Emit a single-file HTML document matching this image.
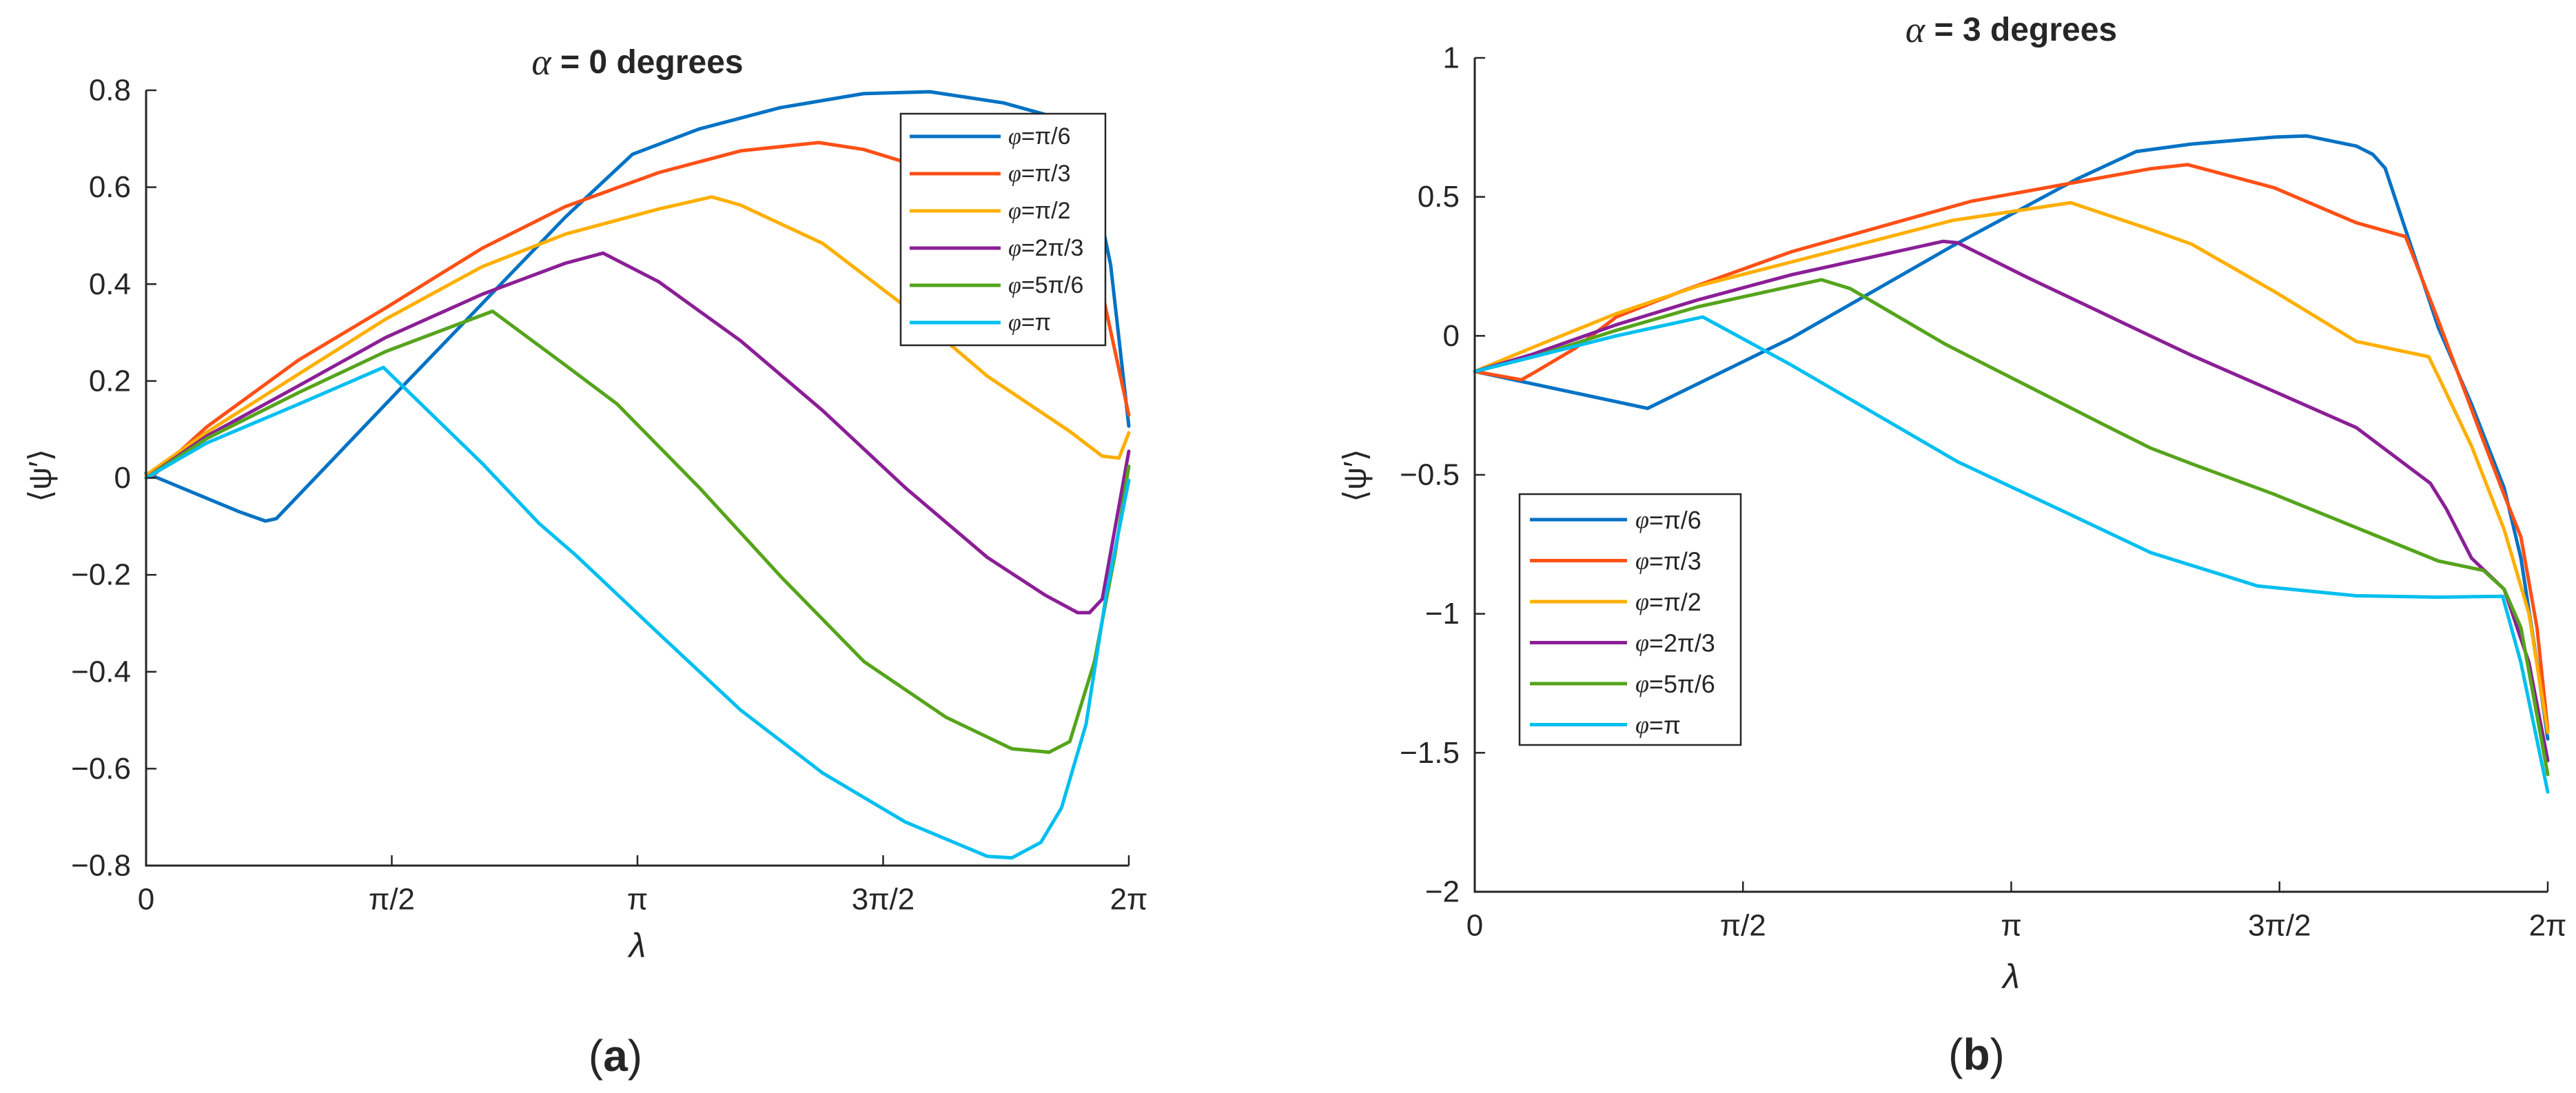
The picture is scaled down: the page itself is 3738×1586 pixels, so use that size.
<!DOCTYPE html>
<html><head><meta charset="utf-8">
<style>
html,body{margin:0;padding:0;background:#fff;}
svg{display:block;}
text{font-family:"Liberation Sans",sans-serif;fill:#262626;}
</style></head>
<body>
<svg id="fig" width="3738" height="1586" viewBox="0 0 3738 1586" xmlns="http://www.w3.org/2000/svg">
<g id="panelA"></g>
<g id="panelB"></g>
</svg>
<script>
// ---- data (x in units of pi) ----
const seriesNames = ["\u03c6=\u03c0/6","\u03c6=\u03c0/3","\u03c6=\u03c0/2","\u03c6=2\u03c0/3","\u03c6=5\u03c0/6","\u03c6=\u03c0"];
const seriesColors = ["#0072C4","#FF5016","#FFAF00","#8B1F96","#55A41C","#00BFF0"];
const xTickValues = [0,0.5,1,1.5,2];
const xTickLabels = ["0","\u03c0/2","\u03c0","3\u03c0/2","2\u03c0"];
const yTicksA = [-0.8,-0.6,-0.4,-0.2,0,0.2,0.4,0.6,0.8];
const yTickLabelsA = ["\u22120.8","\u22120.6","\u22120.4","\u22120.2","0","0.2","0.4","0.6","0.8"];
const yTicksB = [-2,-1.5,-1,-0.5,0,0.5,1];
const yTickLabelsB = ["\u22122","\u22121.5","\u22121","\u22120.5","0","0.5","1"];

const a_pi6_x = [0,0.19,0.243,0.265,0.523,0.853,0.99,1.125,1.29,1.46,1.595,1.745,1.83,1.91,1.963,2];
const a_pi6_y = [0.01,-0.07,-0.089,-0.084,0.19,0.538,0.668,0.72,0.764,0.793,0.797,0.774,0.75,0.70,0.44,0.107];
const a_pi3_x = [0,0.02,0.123,0.31,0.488,0.684,0.853,1.043,1.21,1.369,1.46,1.55,1.712,1.88,1.946,2];
const a_pi3_y = [0,0.01,0.105,0.243,0.351,0.474,0.56,0.63,0.675,0.692,0.678,0.65,0.6,0.51,0.383,0.13];
const a_pi2_x = [0,0.123,0.31,0.488,0.684,0.853,1.043,1.151,1.21,1.377,1.545,1.712,1.88,1.946,1.98,2];
const a_pi2_y = [0.006,0.094,0.214,0.328,0.436,0.503,0.555,0.58,0.563,0.484,0.354,0.21,0.096,0.045,0.041,0.093];
const a_2pi3_x = [0,0.123,0.31,0.488,0.684,0.853,0.93,1.043,1.21,1.377,1.545,1.712,1.83,1.896,1.92,1.946,2];
const a_2pi3_y = [0,0.086,0.19,0.29,0.379,0.443,0.464,0.405,0.283,0.139,-0.02,-0.164,-0.242,-0.278,-0.278,-0.25,0.055];
const a_5pi6_x = [0,0.123,0.31,0.488,0.705,0.853,0.958,1.126,1.294,1.461,1.628,1.762,1.838,1.88,1.93,1.971,2];
const a_5pi6_y = [0,0.081,0.176,0.261,0.344,0.233,0.153,-0.02,-0.206,-0.379,-0.494,-0.559,-0.566,-0.544,-0.379,-0.163,0.024];
const a_pi_x = [0,0.123,0.31,0.483,0.684,0.8,0.875,1.043,1.21,1.377,1.545,1.712,1.762,1.821,1.863,1.913,1.955,2];
const a_pi_y = [0,0.072,0.152,0.228,0.03,-0.094,-0.16,-0.321,-0.479,-0.609,-0.71,-0.781,-0.784,-0.752,-0.681,-0.508,-0.235,-0.005];

const b_pi6_x = [0,0.322,0.591,0.89,1.122,1.233,1.336,1.49,1.551,1.643,1.674,1.697,1.735,1.796,1.858,1.919,1.95,1.98,2];
const b_pi6_y = [-0.128,-0.261,-0.007,0.323,0.564,0.663,0.69,0.715,0.719,0.683,0.653,0.603,0.382,0.03,-0.246,-0.548,-0.8,-1.176,-1.45];
const b_pi3_x = [0,0.087,0.11,0.187,0.264,0.386,0.591,0.925,1.259,1.329,1.49,1.643,1.735,1.796,1.874,1.919,1.95,1.98,2];
const b_pi3_y = [-0.128,-0.158,-0.133,-0.045,0.068,0.161,0.303,0.484,0.601,0.616,0.533,0.407,0.357,0.055,-0.347,-0.573,-0.724,-1.05,-1.415];
const b_pi2_x = [0,0.11,0.264,0.417,0.591,0.89,1.111,1.259,1.336,1.49,1.643,1.778,1.796,1.858,1.919,1.965,2];
const b_pi2_y = [-0.128,-0.04,0.08,0.18,0.266,0.415,0.479,0.383,0.33,0.16,-0.02,-0.075,-0.146,-0.397,-0.698,-1.0,-1.427];
const b_2pi3_x = [0,0.11,0.264,0.417,0.591,0.873,0.9,1.03,1.183,1.259,1.336,1.49,1.643,1.781,1.811,1.858,1.919,1.965,2];
const b_2pi3_y = [-0.128,-0.065,0.04,0.13,0.22,0.34,0.335,0.21,0.07,0.0,-0.07,-0.2,-0.33,-0.53,-0.623,-0.8,-0.912,-1.176,-1.528];
const b_5pi6_x = [0,0.11,0.264,0.417,0.57,0.646,0.7,0.877,1.03,1.183,1.259,1.336,1.49,1.643,1.796,1.88,1.919,1.95,2];
const b_5pi6_y = [-0.128,-0.075,0.02,0.105,0.17,0.202,0.17,-0.03,-0.18,-0.33,-0.403,-0.46,-0.57,-0.69,-0.81,-0.844,-0.912,-1.05,-1.578];
const b_pi_x = [0,0.11,0.264,0.425,0.591,0.9,1.107,1.26,1.459,1.643,1.796,1.916,1.95,2];
const b_pi_y = [-0.128,-0.075,0.0,0.068,-0.106,-0.453,-0.64,-0.78,-0.9,-0.935,-0.94,-0.937,-1.176,-1.641];

const NS="http://www.w3.org/2000/svg";
function mk(parent,tag,attrs,txt){const e=document.createElementNS(NS,tag);for(const k in attrs)e.setAttribute(k,attrs[k]);if(txt!==undefined)e.textContent=txt;parent.appendChild(e);return e;}

function drawPanel(g,cfg){
  const xs=v=>cfg.x0+(v-0)/(2)*(cfg.x1-cfg.x0);
  const ys=v=>cfg.yb+(v-cfg.ymin)/(cfg.ymax-cfg.ymin)*(cfg.yt-cfg.yb);
  cfg.xs.forEach((xa,i)=>{
    const ya=cfg.ys[i];
    const pts=xa.map((x,j)=>xs(x).toFixed(1)+","+ys(ya[j]).toFixed(1)).join(" ");
    const pl=mk(g,"polyline",{points:pts,fill:"none",stroke:seriesColors[i],"stroke-width":5,"stroke-linejoin":"round","stroke-linecap":"round"});
    
    
  });
  const ax=mk(g,"path",{d:`M${cfg.x0},${cfg.yt}V${cfg.yb}H${cfg.x1}`,fill:"none",stroke:"#262626","stroke-width":3});
  
  
  xTickValues.forEach((v,i)=>{
    const x=xs(v);
    const t=mk(g,"line",{x1:x,x2:x,y1:cfg.yb,y2:cfg.yb-15,stroke:"#262626","stroke-width":2.5});
    
    
    const l=mk(g,"text",{x:x,y:cfg.xly,"font-size":44,"text-anchor":"middle","dominant-baseline":"central"},xTickLabels[i]);
    
    
  });
  cfg.yticks.forEach((v,i)=>{
    const y=ys(v);
    const t=mk(g,"line",{x1:cfg.x0,x2:cfg.x0+15,y1:y,y2:y,stroke:"#262626","stroke-width":2.5});
    
    
    const l=mk(g,"text",{x:cfg.x0-22,y:y,"font-size":44,"text-anchor":"end","dominant-baseline":"central"},cfg.ylabels[i]);
    
    
  });
  const xt=mk(g,"text",{x:(cfg.x0+cfg.x1)/2,y:cfg.lamy,"font-size":50,"font-family":"Liberation Serif, serif","font-style":"italic","text-anchor":"middle","dominant-baseline":"central"},"\u03bb");
  
  
  const yt=mk(g,"text",{x:0,y:0,transform:`translate(${cfg.ylx},${cfg.yly}) rotate(-90)`,"font-size":46,"font-family":"Liberation Serif, serif","text-anchor":"middle","dominant-baseline":"central"},"\u27e8\u03c8\u2032\u27e9");
  
  
  const ti=mk(g,"text",{x:(cfg.x0+cfg.x1)/2,y:cfg.ty,"font-size":48,"font-weight":"bold","text-anchor":"middle","dominant-baseline":"central",fill:"#000"});
  
  
  mk(ti,"tspan",{"font-family":"Liberation Serif, serif","font-style":"italic","font-weight":"normal","font-size":54},"\u03b1");
  mk(ti,"tspan",{},cfg.title);
  const L=cfg.leg;
  const lg=mk(g,"g",{});
  
  
  mk(lg,"rect",{x:L.x,y:L.y,width:L.w,height:L.h,fill:"#fff",stroke:"#262626","stroke-width":2.5});
  seriesNames.forEach((n,i)=>{
    const y=L.r0+i*L.dr;
    const e=mk(lg,"g",{});
    
    
    mk(e,"line",{x1:L.lx0,x2:L.lx1,y1:y,y2:y,stroke:seriesColors[i],"stroke-width":5});
    const tx=mk(e,"text",{x:L.tx,y:y,"font-size":L.fs,"dominant-baseline":"central"});
    const parts=n.split("=");
    mk(tx,"tspan",{"font-family":"Liberation Serif, serif","font-style":"italic"},"\u03c6");
    mk(tx,"tspan",{},"="+parts[1]);
  });
  const cap=mk(g,"text",{x:cfg.capx,y:cfg.capy,"font-size":64,"font-family":"Liberation Serif, serif","text-anchor":"middle","dominant-baseline":"central",fill:"#000"});
  
  
  mk(cap,"tspan",{},"(");
  mk(cap,"tspan",{"font-weight":"bold"},cfg.cap);
  mk(cap,"tspan",{},")");
}

drawPanel(document.getElementById("panelA"),{
  x0:212,x1:1638,yb:1256,yt:131,ymin:-0.8,ymax:0.8,
  xs:[a_pi6_x,a_pi3_x,a_pi2_x,a_2pi3_x,a_5pi6_x,a_pi_x],
  ys:[a_pi6_y,a_pi3_y,a_pi2_y,a_2pi3_y,a_5pi6_y,a_pi_y],
  yticks:yTicksA,ylabels:yTickLabelsA,xly:1305,lamy:1372,ylx:58,yly:690,ty:90,title:" = 0 degrees",
  leg:{x:1307,y:165,w:297,h:336,r0:198,dr:54,lx0:1320,lx1:1452,tx:1463,fs:34},
  capx:893,capy:1532,cap:"a"
});
drawPanel(document.getElementById("panelB"),{
  x0:2140,x1:3697,yb:1294,yt:84,ymin:-2,ymax:1,
  xs:[b_pi6_x,b_pi3_x,b_pi2_x,b_2pi3_x,b_5pi6_x,b_pi_x],
  ys:[b_pi6_y,b_pi3_y,b_pi2_y,b_2pi3_y,b_5pi6_y,b_pi_y],
  yticks:yTicksB,ylabels:yTickLabelsB,xly:1343,lamy:1417,ylx:1966,yly:690,ty:43,title:" = 3 degrees",
  leg:{x:2205,y:717,w:321,h:364,r0:754,dr:59.5,lx0:2220,lx1:2361,tx:2373,fs:36},
  capx:2868,capy:1530,cap:"b"
});
</script>
</body></html>
